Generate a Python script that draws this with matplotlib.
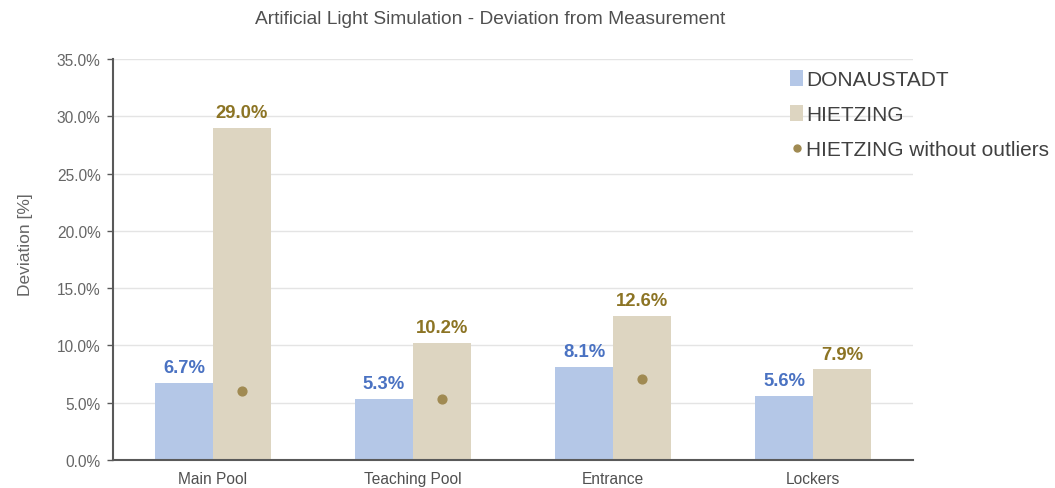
import numpy as np
import matplotlib
matplotlib.use("Agg")
import matplotlib.pyplot as plt
from matplotlib.lines import Line2D
from matplotlib.patches import Patch

plt.rcParams['font.family'] = ['Liberation Sans', 'DejaVu Sans']

categories = ["Main Pool", "Teaching Pool", "Entrance", "Lockers"]
donaustadt = [6.7, 5.3, 8.1, 5.6]
hietzing = [29.0, 10.2, 12.6, 7.9]
hietzing_no_outliers = [6.0, 5.3, 7.1, np.nan]
yticks = [0, 5, 10, 15, 20, 25, 30, 35]

c_blue = "#b4c7e7"
c_beige = "#ddd5c1"
c_dot = "#a08a52"
c_blue_lbl = "#4a72c2"
c_beige_lbl = "#8c7424"
c_text = "#666666"

fig = plt.figure(figsize=(10.55, 4.89), dpi=100)
ax = fig.add_axes([113 / 1055, 1 - 461 / 489, 800 / 1055, 401 / 489])

x = np.arange(len(categories))
w = 0.29
ax.bar(x - w / 2, donaustadt, width=w, color=c_blue, zorder=2)
ax.bar(x + w / 2, hietzing, width=w, color=c_beige, zorder=2)
ax.scatter(x + w / 2, hietzing_no_outliers, s=40, color=c_dot, zorder=3)

for xi, v in zip(x - w / 2, donaustadt):
    ax.annotate(f"{v:.1f}%", (xi, v), xytext=(0, 5), textcoords="offset points",
                ha="center", va="bottom", fontsize=13.3, fontweight="bold", color=c_blue_lbl)
for xi, v in zip(x + w / 2, hietzing):
    ax.annotate(f"{v:.1f}%", (xi, v), xytext=(0, 5), textcoords="offset points",
                ha="center", va="bottom", fontsize=13.3, fontweight="bold", color=c_beige_lbl)

ax.set_xlim(-0.5, len(categories) - 0.5)
ax.set_ylim(0, 35)
ax.set_yticks(yticks)
ax.set_yticklabels([f"{t:.1f}%" for t in yticks], fontsize=11.2, color=c_text)
ax.set_xticks(x)
ax.set_xticklabels(categories, fontsize=11.2, color="#505050")
ax.tick_params(axis="x", length=0, pad=8)
ax.tick_params(axis="y", length=4, width=1, color="#595959", pad=5)
ax.yaxis.grid(True, color="#e4e4e4", linewidth=1, zorder=0)
ax.set_axisbelow(True)
for s in ["top", "right"]:
    ax.spines[s].set_visible(False)
for s in ["left", "bottom"]:
    ax.spines[s].set_color("#595959")
    ax.spines[s].set_linewidth(1.5)

ax.set_ylabel("Deviation [%]", fontsize=12.5, color=c_text)
ax.yaxis.set_label_coords(-0.1, 0.54)
fig.text(490 / 1055, 1 - 20 / 489, "Artificial Light Simulation - Deviation from Measurement",
         ha="center", va="center", fontsize=13.8, color="#505050")

handles = [
    Patch(facecolor=c_blue, edgecolor="none"),
    Patch(facecolor=c_beige, edgecolor="none"),
    Line2D([], [], marker="o", linestyle="none", color=c_dot, markersize=5),
]
labels = ["DONAUSTADT", "HIETZING", "HIETZING without outliers"]
fig.legend(handles, labels, loc="upper left", bbox_to_anchor=(782 / 1055, 1 - 63 / 489),
           frameon=False, fontsize=15, labelcolor="#404040", handlelength=0.6,
           handleheight=0.75, handletextpad=0.15, labelspacing=0.76, borderaxespad=0)

fig.savefig("out.png", dpi=100)
